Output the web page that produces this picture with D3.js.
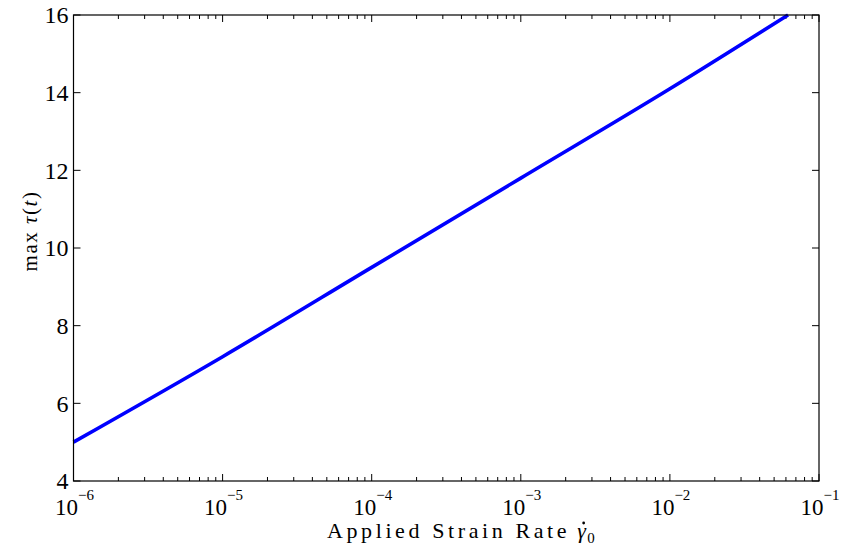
<!DOCTYPE html>
<html>
<head>
<meta charset="utf-8">
<script src="https://cdn.jsdelivr.net/npm/d3@7"></script>
<style>
  html, body { margin: 0; padding: 0; background: #fff; }
  svg { display: block; }
  text { font-family: "Liberation Serif", "DejaVu Serif", serif; fill: #000; }
</style>
</head>
<body>
<svg id="chart" width="841" height="550"></svg>
<script>
// ---- Data ----
const strainRate = [1e-6, 1e-5, 1e-4, 1e-3, 1e-2, 0.062];
const maxTau     = [5.0, 7.2, 9.5, 11.8, 14.1, 16.0];
const xTickExponents = [-6, -5, -4, -3, -2, -1];
const yTicks = [4, 6, 8, 10, 12, 14, 16];
const xLabel = "Applied Strain Rate";

// ---- Layout ----
const W = 841, H = 550;
const m = { left: 73.5, right: 841 - 819, top: 15, bottom: 550 - 481 };
const svg = d3.select("#chart");

const x = d3.scaleLog().domain([1e-6, 1e-1]).range([m.left, W - m.right]);
const y = d3.scaleLinear().domain([4, 16]).range([H - m.bottom, m.top]);

const x0 = x.range()[0], x1 = x.range()[1];
const y0 = y.range()[0], y1 = y.range()[1];

// minor tick values
const minor = [];
for (let e = -6; e < -1; e++) for (let k = 2; k <= 9; k++) minor.push(k * Math.pow(10, e));

const g = svg.append("g");
const majorLen = 7, minorLen = 4;

// x ticks (bottom & top, inward)
xTickExponents.forEach(e => {
  const v = Math.pow(10, e), px = x(v);
  g.append("line").attr("x1", px).attr("x2", px).attr("y1", y0).attr("y2", y0 - majorLen).attr("stroke", "#000");
  g.append("line").attr("x1", px).attr("x2", px).attr("y1", y1).attr("y2", y1 + majorLen).attr("stroke", "#000");
});
minor.forEach(v => {
  const px = x(v);
  g.append("line").attr("x1", px).attr("x2", px).attr("y1", y0).attr("y2", y0 - minorLen).attr("stroke", "#000");
  g.append("line").attr("x1", px).attr("x2", px).attr("y1", y1).attr("y2", y1 + minorLen).attr("stroke", "#000");
});
// y ticks (left & right, inward)
yTicks.forEach(v => {
  const py = y(v);
  g.append("line").attr("x1", x0).attr("x2", x0 + majorLen).attr("y1", py).attr("y2", py).attr("stroke", "#000");
  g.append("line").attr("x1", x1).attr("x2", x1 - majorLen).attr("y1", py).attr("y2", py).attr("stroke", "#000");
});

// data line
const line = d3.line().x((d, i) => x(strainRate[i])).y(d => y(d)).curve(d3.curveMonotoneX);
svg.append("path").datum(maxTau).attr("d", line)
  .attr("fill", "none").attr("stroke", "#0000ff").attr("stroke-width", 3.6)
  .attr("stroke-linejoin", "round");

// frame
svg.append("rect").attr("x", x0).attr("y", y1).attr("width", x1 - x0).attr("height", y0 - y1)
  .attr("fill", "none").attr("stroke", "#000").attr("stroke-width", 1.2);

// y tick labels
yTicks.forEach(v => {
  svg.append("text").attr("x", x0 - 5).attr("y", y(v)).attr("dy", "0.35em")
    .attr("text-anchor", "end").attr("font-size", 24).text(v);
});

// x tick labels 10^e
xTickExponents.forEach(e => {
  const t = svg.append("text").attr("x", x(Math.pow(10, e)) + 1).attr("y", 515)
    .attr("text-anchor", "middle").attr("font-size", 23);
  t.append("tspan").text("10");
  t.append("tspan").attr("dy", -15).attr("font-size", 15).text("\u2212" + Math.abs(e));
});

// x axis label
const xl = svg.append("text").attr("x", 327).attr("y", 538)
  .attr("font-size", 22).attr("letter-spacing", "3.6px").text(xLabel);
const xlBox = xl.node().getBBox();
const gam = svg.append("text").attr("x", xlBox.x + xlBox.width + 7).attr("y", 538)
  .attr("font-size", 22).attr("font-style", "italic").text("\u03B3");
const gBox = gam.node().getBBox();
// dot accent over gamma
svg.append("circle").attr("cx", gBox.x + gBox.width / 2 + 1.5).attr("cy", 538 - 15)
  .attr("r", 1.4).attr("fill", "#000");
svg.append("text").attr("x", gBox.x + gBox.width).attr("y", 543)
  .attr("font-size", 15).text("0");

// y axis label
const yl = svg.append("text").attr("transform", `translate(37,231) rotate(-90)`)
  .attr("text-anchor", "middle").attr("font-size", 21).attr("letter-spacing", "1.5px");
yl.append("tspan").text("max ");
yl.append("tspan").attr("font-style", "italic").text("\u03C4");
yl.append("tspan").text("(");
yl.append("tspan").attr("font-style", "italic").text("t");
yl.append("tspan").text(")");
</script>
</body>
</html>
